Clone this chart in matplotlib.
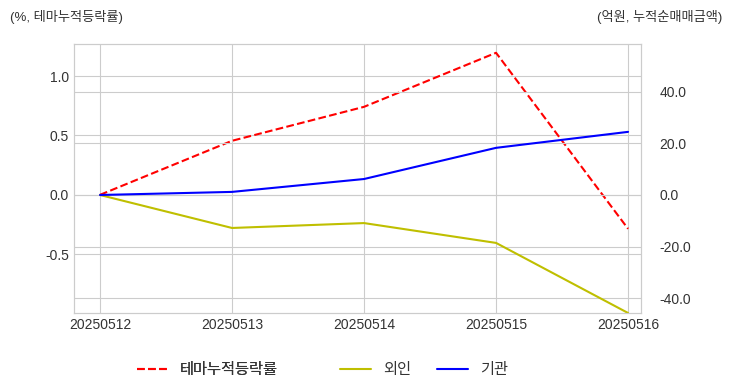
import matplotlib
matplotlib.use('Agg')
import matplotlib.pyplot as plt
import seaborn as sns

sns.set_style('whitegrid')
plt.rcParams['font.family'] = ['Liberation Sans', 'Noto Sans CJK KR', 'DejaVu Sans']
plt.rcParams['axes.unicode_minus'] = False

# 데이터
dates = ['20250512', '20250513', '20250514', '20250515', '20250516']
theme_rate = [0.0, 0.455, 0.741, 1.196, -0.286]
foreign = [0.0, -12.8, -10.9, -18.6, -45.8]
inst = [0.0, 1.2, 6.2, 18.3, 24.5]

fig = plt.figure(figsize=(7.32, 3.92), dpi=100)
ax = fig.add_axes([74 / 732, 1 - 313 / 392, (641 - 74) / 732, (313 - 44) / 392])
ax2 = ax.twinx()

x = list(range(len(dates)))
l1, = ax.plot(x, theme_rate, 'r--', lw=1.5, label='테마누적등락률')
l2, = ax2.plot(x, foreign, color='y', lw=1.5, label='외인')
l3, = ax2.plot(x, inst, color='b', lw=1.5, label='기관')

ax.set_xticks(x)
ax.set_xticklabels(dates)
ax.set_xlim(-0.197, 4.098)
ax.set_ylim(-0.995, 1.27)
ax.set_yticks([-0.5, 0.0, 0.5, 1.0])
ax.set_yticklabels(['-0.5', '0.0', '0.5', '1.0'])
ax2.set_ylim(-45.8, 58.6)
ax2.set_yticks([-40, -20, 0, 20, 40])
ax2.set_yticklabels(['-40.0', '-20.0', '0.0', '20.0', '40.0'])

for a in (ax, ax2):
    a.tick_params(labelsize=10, colors='#333333', length=0)
    for s in a.spines.values():
        s.set_color('#cccccc')
ax2.tick_params(axis='y', pad=13.5)
ax2.grid(True, color='#cccccc')
ax.grid(True, color='#cccccc')

fig.text(10 / 732, 1 - 17 / 392, '(%, 테마누적등락률)', fontsize=9.5, color='#333333', va='center', ha='left')
fig.text(722 / 732, 1 - 17 / 392, '(억원, 누적순매매금액)', fontsize=9.5, color='#333333', va='center', ha='right')

leg1 = fig.legend(handles=[l1], loc='center', bbox_to_anchor=(207 / 732, 1 - 370 / 392),
                  frameon=False, fontsize=11, labelcolor='#333333')
fig.add_artist(leg1)
fig.legend(handles=[l2, l3], loc='center', bbox_to_anchor=(424 / 732, 1 - 370 / 392), ncol=2,
           frameon=False, fontsize=11, columnspacing=1.7, labelcolor='#333333')

fig.savefig('out.png', dpi=100)
